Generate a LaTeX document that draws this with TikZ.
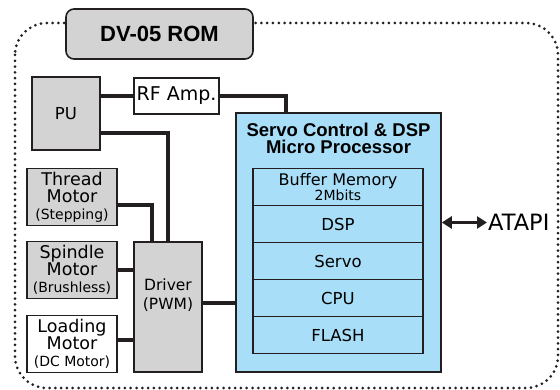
\documentclass[tikz,border=0pt]{standalone}
\usepackage{fontspec}
\setmainfont{DejaVu Sans}
\newfontfamily\headfont{Liberation Sans}
\usetikzlibrary{arrows.meta,positioning}
\definecolor{boxgray}{RGB}{211,211,211}
\definecolor{mpblue}{RGB}{168,222,248}
\definecolor{ink}{RGB}{35,31,32}
\newcommand\sz[2]{\fontsize{#1}{#2}\selectfont}

\begin{document}
\begin{tikzpicture}[x=1pt,y=-1pt,
    box/.style={draw=ink,line width=1.6pt,fill=boxgray,inner sep=0pt,align=center},
    motor/.style={box,minimum width=90pt,minimum height=57pt,font=\sz{17.5}{17}},
    unit/.style={draw=ink,line width=1.6pt,fill=mpblue,minimum width=170pt,minimum height=37pt,
                 inner sep=0pt,outer sep=0pt,align=center,font=\sz{16.5}{16}},
    link/.style={draw=ink,line width=4pt},
    frame/.style={draw=ink,line width=3pt,line cap=round,dash pattern=on 0pt off 5.8pt,rounded corners=32pt}]

  \useasboundingbox (0,0) rectangle (560,390);

  % outer frame and title
  \draw[frame] (15,23) rectangle (558,388);
  \node[box,rounded corners=8pt,minimum width=187pt,minimum height=50pt,
        font=\headfont\bfseries\sz{22}{22}] (title) at (159.5,34) {DV-05 ROM};

  % pickup, amplifier, motors and driver
  \node[box,minimum width=68pt,minimum height=73pt,font=\sz{16.5}{16}] (pu) at (66,113.5) {PU};
  \node[box,fill=white,minimum width=85pt,minimum height=36pt,font=\sz{19}{19}] (rf) at (176.5,96) {RF Amp.};
  \node[motor] (thread) at (72,197) {Thread\\Motor\\{\sz{14}{17}(Stepping)}};
  \node[motor] (spindle) at (72,270) {Spindle\\Motor\\{\sz{14}{17}(Brushless)}};
  \node[motor,fill=white] (loading) at (72,344) {Loading\\Motor\\{\sz{14}{17}(DC Motor)}};
  \node[box,minimum width=68pt,minimum height=130pt,font=\sz{15.5}{19}] (drv) at (168,307) {Driver\\(PWM)\\[6pt]};

  % micro processor
  \node[box,fill=mpblue,minimum width=205pt,minimum height=259pt] (mp) at (338.5,242.5) {};
  \node[font=\headfont\bfseries\sz{18.5}{17},align=center] (mptitle) at (338.5,138)
       {Servo Control \& DSP\\Micro Processor};
  \node[unit,font=\sz{16}{15}] (buf) at (338,187) {Buffer Memory\\{\sz{14}{15}2Mbits}};
  \foreach \name/\txt [remember=\name as \prev (initially buf)] in {dsp/DSP, servo/Servo, cpu/CPU, flash/FLASH}
    \node[unit,below=0pt of \prev] (\name) {\txt};

  \node[font=\sz{22.5}{22},anchor=west,inner sep=1pt] (atapi) at (487,222.5) {ATAPI};

  % connections
  \draw[link] (pu.east |- rf.west) -- (rf.west);
  \draw[link] (rf.east) -| ([xshift=51pt]mp.north west);
  \draw[link] ([yshift=-20pt]pu.east) -| (drv.north);
  \draw[link] ([yshift=-8pt]thread.east) -| ([xshift=-16pt]drv.north);
  \draw[link] (spindle.east) -- (spindle.east -| drv.west);
  \draw[link] ([yshift=4pt]loading.east) -- ([yshift=4pt]loading.east -| drv.west);
  \draw[link] ([yshift=4pt]drv.east) -- ([yshift=4pt]drv.east -| mp.west);
  \draw[link,line width=3.5pt,{Triangle[length=10pt,width=12pt]}-{Triangle[length=10pt,width=12pt]}]
       ([yshift=20pt]mp.east) -- (atapi.west);
\end{tikzpicture}
\end{document}
